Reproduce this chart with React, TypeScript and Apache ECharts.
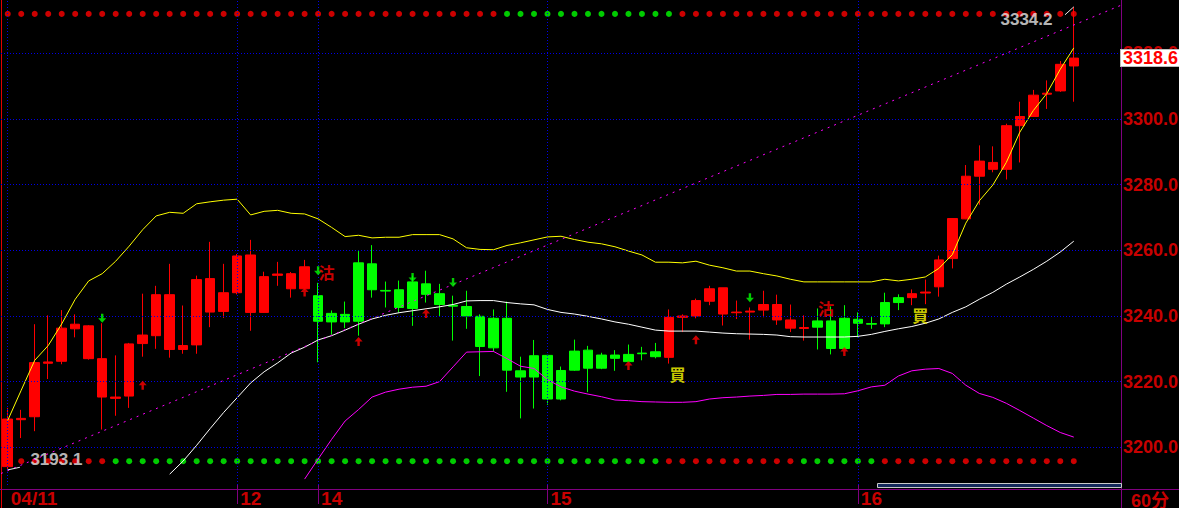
import React, { useEffect, useRef } from 'react';
import * as echarts from 'echarts';

const dayStartIndex = [0, 17, 23, 40, 63];
const dayStartLabel = ['04/11', '12', '14', '15', '16'];
const barCount = 80;
const padCount = 3;

// [open, close, low, high]
const candles: number[][] = [
  [3194.1, 3208.6, 3193.1, 3212.0],
  [3208.4, 3208.8, 3202.8, 3211.4],
  [3209.3, 3225.8, 3204.9, 3237.5],
  [3225.6, 3226.0, 3220.8, 3240.2],
  [3226.2, 3236.3, 3225.3, 3241.8],
  [3236.1, 3237.5, 3233.5, 3240.5],
  [3227.0, 3237.0, 3226.7, 3237.2],
  [3215.3, 3227.0, 3205.4, 3237.8],
  [3214.9, 3215.3, 3209.6, 3228.0],
  [3215.6, 3231.5, 3212.0, 3231.8],
  [3231.6, 3234.2, 3227.6, 3246.8],
  [3234.0, 3246.5, 3230.0, 3249.2],
  [3229.8, 3246.5, 3227.3, 3255.9],
  [3229.8, 3231.0, 3228.5, 3243.2],
  [3231.2, 3251.1, 3228.5, 3252.3],
  [3241.2, 3251.4, 3236.6, 3262.6],
  [3241.4, 3247.1, 3239.4, 3255.9],
  [3247.1, 3258.3, 3246.6, 3258.9],
  [3241.1, 3258.6, 3235.5, 3263.2],
  [3241.1, 3252.0, 3241.0, 3253.5],
  [3252.4, 3252.8, 3249.2, 3256.5],
  [3248.3, 3252.9, 3245.6, 3253.4],
  [3248.3, 3255.0, 3248.0, 3257.1],
  [3246.2, 3238.4, 3225.9, 3250.1],
  [3240.8, 3238.2, 3234.3, 3241.7],
  [3240.5, 3238.2, 3236.3, 3244.4],
  [3256.2, 3238.4, 3234.0, 3259.8],
  [3255.9, 3248.0, 3245.6, 3261.6],
  [3247.8, 3247.6, 3242.6, 3250.5],
  [3248.0, 3242.6, 3241.1, 3250.8],
  [3250.4, 3242.3, 3237.0, 3252.3],
  [3249.8, 3246.6, 3244.1, 3253.8],
  [3246.8, 3243.5, 3239.9, 3249.8],
  [3243.3, 3243.0, 3232.5, 3246.2],
  [3242.9, 3240.0, 3236.1, 3247.7],
  [3239.9, 3230.7, 3221.7, 3240.5],
  [3239.3, 3230.3, 3229.1, 3242.0],
  [3239.3, 3223.5, 3216.9, 3244.4],
  [3223.3, 3221.4, 3208.8, 3227.6],
  [3227.9, 3221.4, 3211.8, 3232.7],
  [3228.0, 3214.7, 3212.9, 3228.2],
  [3223.4, 3214.7, 3214.3, 3224.6],
  [3229.3, 3223.5, 3223.3, 3232.8],
  [3229.6, 3224.1, 3216.8, 3230.9],
  [3228.1, 3224.1, 3223.8, 3228.8],
  [3228.1, 3227.1, 3223.3, 3229.6],
  [3228.3, 3226.1, 3225.8, 3231.3],
  [3228.7, 3228.5, 3226.5, 3230.6],
  [3229.1, 3227.6, 3227.1, 3231.8],
  [3227.4, 3239.6, 3225.5, 3242.0],
  [3239.6, 3240.0, 3235.1, 3240.5],
  [3240.0, 3244.7, 3239.3, 3245.3],
  [3244.5, 3248.3, 3243.3, 3249.2],
  [3240.6, 3248.6, 3237.1, 3248.6],
  [3241.0, 3241.2, 3239.1, 3244.7],
  [3241.2, 3241.5, 3232.8, 3242.6],
  [3241.8, 3243.5, 3239.6, 3247.7],
  [3238.8, 3243.5, 3237.3, 3246.5],
  [3236.3, 3238.8, 3235.1, 3243.5],
  [3236.2, 3236.5, 3232.5, 3240.2],
  [3238.5, 3236.6, 3229.8, 3242.3],
  [3238.5, 3230.1, 3228.3, 3242.9],
  [3239.3, 3230.1, 3230.0, 3243.3],
  [3239.0, 3237.8, 3233.5, 3241.1],
  [3237.7, 3237.5, 3236.1, 3239.8],
  [3244.1, 3237.6, 3236.6, 3247.1],
  [3245.6, 3244.1, 3241.8, 3246.6],
  [3245.6, 3246.8, 3243.3, 3248.1],
  [3247.0, 3247.3, 3243.6, 3251.1],
  [3248.9, 3257.1, 3245.9, 3258.4],
  [3257.5, 3269.7, 3254.5, 3269.8],
  [3269.6, 3282.6, 3269.5, 3286.0],
  [3282.6, 3287.2, 3273.9, 3292.0],
  [3284.7, 3286.8, 3283.8, 3291.7],
  [3284.7, 3298.0, 3281.6, 3298.6],
  [3298.0, 3300.8, 3286.8, 3305.3],
  [3300.8, 3307.3, 3300.7, 3308.9],
  [3307.6, 3307.9, 3303.1, 3311.8],
  [3308.6, 3316.7, 3308.3, 3317.7],
  [3316.2, 3318.6, 3305.3, 3334.2],
];

const upperBand: (number | null)[] = [
  3208.2, 3217.4, 3226.5, 3231.0, 3237.6, 3245.1, 3250.7, 3252.9, 3256.7, 3261.3,
  3266.3, 3270.5, 3271.6, 3271.3, 3274.2, 3274.8, 3275.3, 3275.6, 3270.8, 3271.9,
  3272.2, 3271.3, 3271.1, 3269.6, 3267.0, 3264.2, 3264.6, 3263.8, 3264.0, 3264.0,
  3264.8, 3264.8, 3264.8, 3263.5, 3260.8, 3260.3, 3260.2, 3261.5, 3262.3, 3263.2,
  3264.1, 3264.3, 3263.3, 3262.5, 3262.0, 3261.1, 3259.8, 3258.6, 3256.4, 3256.4,
  3256.2, 3256.7, 3255.5, 3254.7, 3253.7, 3253.7, 3252.9, 3252.2, 3251.2, 3250.4,
  3250.4, 3250.4, 3250.4, 3250.4, 3250.4, 3251.2, 3250.7, 3251.2, 3251.9, 3254.5,
  3258.7, 3268.3, 3275.1, 3279.9, 3286.8, 3296.0, 3302.6, 3307.8, 3315.2, 3321.7,
];

const midBand: (number | null)[] = [
  null, null, null, null, null, null, null, null, null, null,
  null, null, 3191.8, 3195.8, 3200.6, 3205.7, 3210.6, 3215.1, 3219.6, 3223.0,
  3225.7, 3228.7, 3230.5, 3232.7, 3234.0, 3235.7, 3237.5, 3239.1, 3240.2, 3241.0,
  3241.6, 3242.2, 3242.8, 3243.5, 3244.6, 3244.7, 3244.7, 3244.1, 3243.7, 3243.4,
  3242.0, 3241.1, 3240.6, 3239.9, 3239.1, 3238.2, 3237.5, 3236.6, 3235.7, 3235.4,
  3235.4, 3235.4, 3235.1, 3234.8, 3234.6, 3234.5, 3234.4, 3234.2, 3233.7, 3233.6,
  3233.6, 3233.6, 3233.6, 3233.8, 3234.4, 3235.3, 3236.1, 3236.8, 3237.8, 3239.1,
  3241.1, 3242.8, 3245.1, 3247.2, 3249.7, 3251.9, 3254.2, 3256.7, 3259.5, 3262.8,
];

const lowerBand: (number | null)[] = [
  null, null, null, null, null, null, null, null, null, null,
  null, null, null, null, null, null, null, null, null, null,
  null, null, 3190.3, 3196.4, 3202.4, 3208.0, 3211.5, 3215.3, 3216.8, 3217.7,
  3218.3, 3218.6, 3220.0, 3224.5, 3229.0, 3229.1, 3229.2, 3227.0, 3224.7, 3224.0,
  3220.6, 3218.4, 3217.1, 3216.2, 3215.4, 3214.4, 3214.2, 3213.9, 3213.8, 3213.7,
  3213.7, 3213.9, 3214.7, 3215.1, 3215.3, 3215.6, 3215.8, 3216.1, 3216.1, 3216.2,
  3216.2, 3216.2, 3216.3, 3217.2, 3218.4, 3218.9, 3221.7, 3223.3, 3223.8, 3224.0,
  3222.5, 3218.9, 3216.4, 3215.2, 3213.4, 3211.2, 3208.9, 3206.6, 3204.5, 3203.1,
];

// R = red dot, G = green dot
const topSignal =
  'RRRRRRRRRR' + 'RRRRRRRRRR' + 'RRRRRRRRRR' + 'RRRRRRRGGG' +
  'GGGGGGGGGG' + 'RRRRRRRRRR' + 'RRRRRRRRRR' + 'RRRRRRRRRR';
const bottomSignal =
  'RRRRRRRRGG' + 'GGGGGGGGGG' + 'GGGGGGGGGG' + 'GGGGGGGGGG' +
  'GGGGGGGGGR' + 'RRRRRRRRRG' + 'GGGGGRRRRR' + 'RRRRRRRRRR';

const downArrowIndex = [7, 23, 30, 33, 55];
const downArrowPrice = [3239.3, 3253.8, 3251.7, 3250.2, 3245.6];
const upArrowIndex = [10, 22, 26, 31, 46, 51, 62];
const upArrowPrice = [3218.9, 3247.3, 3232.2, 3240.8, 3224.9, 3232.8, 3229.2];

const sellIndex = [23, 60];
const sellPrice = [3253.4, 3242.5];
const buyIndex = [49, 67];
const buyPrice = [3222.4, 3240.2];

const priceTicks = [3200, 3220, 3240, 3260, 3280, 3300, 3320];
const lastPrice = 3318.6;
const highIndex = 79;
const highPrice = 3334.2;
const lowIndex = 0;
const lowPrice = 3193.1;
const trendLine = [[-0.5, 3192.0], [82.5, 3334.7]];
const periodLabel = '60分';

const RED = '#ff0000';
const GREEN = '#00ff00';
const AXIS_RED = '#c80000';
const GRID_BLUE = '#0000e6';
const PURPLE = '#800080';
const NUM_FONT = '"Liberation Sans", Arial, sans-serif';
const CJK_FONT = '"Noto Sans CJK TC", "Noto Sans CJK SC", sans-serif';

const categories: string[] = [];
for (let i = 0; i < barCount + padCount; i++) {
  const k = dayStartIndex.indexOf(i);
  categories.push(k >= 0 ? dayStartLabel[k] : '');
}

const TOP_DOT = (489 - 14) / 489;
const BOTTOM_DOT = (489 - 465) / 489;

function dots(sig: string, level: number, ch: string) {
  const out: number[][] = [];
  for (let i = 0; i < sig.length; i++) if (sig[i] === ch) out.push([i, level]);
  return out;
}

const UP_ARROW = 'path://M5,0 L10,5 L6.5,5 L6.5,10 L3.5,10 L3.5,5 L0,5 Z';
const DOWN_ARROW = 'path://M3.5,0 L6.5,0 L6.5,5 L10,5 L5,10 L0,5 L3.5,5 Z';

function buildOption(): any {
  const markData: any[] = [];
  dayStartIndex.forEach((i) => {
    markData.push({ xAxis: i, label: { show: false } });
  });
  priceTicks.forEach((v) => {
    markData.push({
      yAxis: v,
      label: {
        show: true,
        position: 'end',
        distance: 2,
        formatter: v.toFixed(1),
        color: AXIS_RED,
        fontSize: 18,
        fontWeight: 'bold',
        fontFamily: NUM_FONT,
      },
    });
  });
  markData.push({
    yAxis: lastPrice,
    lineStyle: { width: 0, color: 'rgba(0,0,0,0)' },
    label: {
      show: true,
      position: 'end',
      distance: 0,
      formatter: lastPrice.toFixed(1),
      color: RED,
      backgroundColor: '#ffffff',
      borderColor: '#bdbdbd',
      borderWidth: 1,
      padding: [0, 1, 0, 2],
      lineHeight: 16,
      fontSize: 18,
      fontWeight: 'bold',
      fontFamily: NUM_FONT,
    },
  });

  const textSeries = (idx: number[], price: number[], txt: string, color: string) => ({
    type: 'scatter',
    xAxisIndex: 1,
    yAxisIndex: 0,
    symbolSize: 1,
    itemStyle: { color: 'transparent' },
    data: idx.map((i, k) => [i, price[k]]),
    label: {
      show: true,
      position: 'right',
      distance: 0,
      formatter: txt,
      color,
      fontSize: 16,
      fontWeight: 'bold',
      fontFamily: CJK_FONT,
    },
    z: 6,
    silent: true,
  });

  return {
    animation: false,
    backgroundColor: '#000000',
    grid: { left: 1, right: 58, top: 0, bottom: 19 },
    xAxis: [
      {
        type: 'category',
        data: categories,
        boundaryGap: true,
        axisLine: { show: false },
        axisTick: {
          show: true,
          alignWithLabel: true,
          interval: (i: number) => i > 0 && dayStartIndex.includes(i),
          length: 19,
          lineStyle: { color: PURPLE, width: 1 },
        },
        axisLabel: {
          show: true,
          interval: (i: number) => dayStartIndex.includes(i),
          formatter: (v: string) => v,
          align: 'left',
          padding: [0, 0, 0, 3],
          margin: 4,
          color: AXIS_RED,
          fontSize: 19,
          fontWeight: 'bold',
          fontFamily: NUM_FONT,
        },
        splitLine: { show: false },
      },
      {
        type: 'value',
        min: -0.5,
        max: barCount + padCount - 0.5,
        show: false,
      },
    ],
    yAxis: [
      {
        type: 'value',
        position: 'right',
        min: 3188.5,
        max: 3336.3,
        axisLine: { show: false },
        axisTick: { show: false },
        axisLabel: { show: false },
        splitLine: { show: false },
      },
      { type: 'value', min: 0, max: 1, show: false },
    ],
    series: [
      {
        type: 'scatter',
        xAxisIndex: 1,
        yAxisIndex: 0,
        symbolSize: 1,
        itemStyle: { color: 'transparent' },
        data: [[lowIndex + 0.9, lowPrice + 0.8]],
        label: {
          show: true,
          position: 'right',
          distance: 10,
          offset: [0, -8],
          formatter: lowPrice.toFixed(1),
          color: '#e8e8e8',
          fontSize: 17,
          fontWeight: 'bold',
          fontFamily: NUM_FONT,
        },
        silent: true,
      },
      {
        type: 'scatter',
        xAxisIndex: 1,
        yAxisIndex: 1,
        symbolSize: 6,
        itemStyle: { color: RED },
        data: dots(topSignal, TOP_DOT, 'R').concat(dots(bottomSignal, BOTTOM_DOT, 'R')),
        silent: true,
      },
      {
        type: 'scatter',
        xAxisIndex: 1,
        yAxisIndex: 1,
        symbolSize: 6,
        itemStyle: { color: GREEN },
        data: dots(topSignal, TOP_DOT, 'G').concat(dots(bottomSignal, BOTTOM_DOT, 'G')),
        silent: true,
      },
      {
        type: 'candlestick',
        xAxisIndex: 0,
        yAxisIndex: 0,
        barWidth: 10,
        data: candles,
        itemStyle: {
          color: RED,
          color0: GREEN,
          borderColor: RED,
          borderColor0: GREEN,
          borderWidth: 1,
        },
        markLine: {
          silent: true,
          symbol: 'none',
          animation: false,
          lineStyle: { color: GRID_BLUE, type: [1, 2], width: 1 },
          data: markData,
        },
        z: 3,
      },
      {
        type: 'line',
        xAxisIndex: 0,
        yAxisIndex: 0,
        data: upperBand,
        showSymbol: false,
        lineStyle: { color: '#ffff00', width: 1 },
        z: 4,
        silent: true,
      },
      {
        type: 'line',
        xAxisIndex: 0,
        yAxisIndex: 0,
        data: midBand,
        showSymbol: false,
        lineStyle: { color: '#ffffff', width: 1 },
        z: 4,
        silent: true,
      },
      {
        type: 'line',
        xAxisIndex: 0,
        yAxisIndex: 0,
        data: lowerBand,
        showSymbol: false,
        lineStyle: { color: '#ff00ff', width: 1 },
        z: 4,
        silent: true,
      },
      {
        type: 'line',
        xAxisIndex: 1,
        yAxisIndex: 0,
        data: trendLine,
        showSymbol: false,
        lineStyle: { color: '#ff00ff', width: 1, type: [2, 5] },
        z: 4,
        silent: true,
      },
      {
        type: 'line',
        xAxisIndex: 1,
        yAxisIndex: 0,
        data: [[highIndex, highPrice], [highIndex - 0.65, highPrice - 2.4]],
        showSymbol: false,
        lineStyle: { color: '#e8e8e8', width: 1 },
        z: 5,
        silent: true,
      },
      {
        type: 'line',
        xAxisIndex: 1,
        yAxisIndex: 0,
        data: [[lowIndex, lowPrice], [lowIndex + 0.9, lowPrice + 0.8]],
        showSymbol: false,
        lineStyle: { color: '#e8e8e8', width: 1 },
        z: 5,
        silent: true,
      },
      {
        type: 'scatter',
        xAxisIndex: 1,
        yAxisIndex: 0,
        symbolSize: 1,
        itemStyle: { color: 'transparent' },
        data: [[highIndex - 0.65, highPrice - 2.4]],
        label: {
          show: true,
          position: 'left',
          distance: 12,
          offset: [0, 4.5],
          formatter: highPrice.toFixed(1),
          color: '#e8e8e8',
          fontSize: 17,
          fontWeight: 'bold',
          fontFamily: NUM_FONT,
        },
        z: 6,
        silent: true,
      },
      {
        type: 'scatter',
        xAxisIndex: 1,
        yAxisIndex: 0,
        symbol: DOWN_ARROW,
        symbolSize: [8, 9],
        itemStyle: { color: GREEN },
        data: downArrowIndex.map((i, k) => [i, downArrowPrice[k]]),
        z: 6,
        silent: true,
      },
      {
        type: 'scatter',
        xAxisIndex: 1,
        yAxisIndex: 0,
        symbol: UP_ARROW,
        symbolSize: [8, 9],
        itemStyle: { color: RED },
        data: upArrowIndex.map((i, k) => [i, upArrowPrice[k]]),
        z: 6,
        silent: true,
      },
      textSeries(sellIndex, sellPrice, '沽', RED),
      textSeries(buyIndex, buyPrice, '買', '#ffff00'),
    ],
    graphic: [
      { type: 'line', shape: { x1: 1.5, y1: 0, x2: 1.5, y2: 508 }, style: { stroke: '#e00000', lineWidth: 1 }, silent: true },
      { type: 'line', shape: { x1: 1121.5, y1: 0, x2: 1121.5, y2: 508 }, style: { stroke: PURPLE, lineWidth: 1 }, silent: true },
      { type: 'line', shape: { x1: 0, y1: 489.5, x2: 1179, y2: 489.5 }, style: { stroke: PURPLE, lineWidth: 1 }, silent: true },
      { type: 'rect', shape: { x: 877.5, y: 483.5, width: 244, height: 4 }, style: { fill: '#14285a', stroke: '#c8c8c8', lineWidth: 1 }, silent: true },
      {
        type: 'text',
        x: 1131,
        y: 492,
        style: { text: periodLabel, fill: AXIS_RED, font: 'bold 18px "Liberation Sans", "Noto Sans CJK SC", sans-serif' },
        silent: true,
      },
    ],
  };
}

export default function App() {
  const ref = useRef<HTMLDivElement>(null);
  useEffect(() => {
    if (!ref.current) return;
    const chart = echarts.init(ref.current, null, { renderer: 'svg' });
    chart.setOption(buildOption());
    return () => chart.dispose();
  }, []);
  return (
    <div
      ref={ref}
      style={{ position: 'fixed', left: 0, top: 0, width: 1179, height: 508, background: '#000' }}
    />
  );
}
